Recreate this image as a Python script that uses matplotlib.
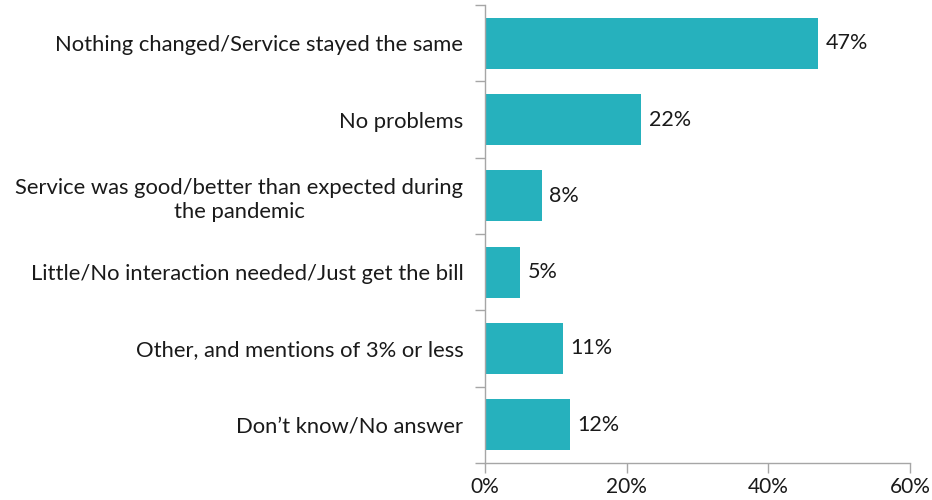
import matplotlib
matplotlib.use("Agg")
import matplotlib.pyplot as plt
from matplotlib.ticker import FixedLocator, NullFormatter

plt.rcParams['font.family'] = ['Lato', 'DejaVu Sans']

categories = [
    "Nothing changed/Service stayed the same",
    "No problems",
    "Service was good/better than expected during\nthe pandemic",
    "Little/No interaction needed/Just get the bill",
    "Other, and mentions of 3% or less",
    "Don\u2019t know/No answer",
]
values = [47, 22, 8, 5, 11, 12]
xticks = [0, 20, 40, 60]
xtick_labels = ["0%", "20%", "40%", "60%"]

bar_color = "#26B1BD"
axis_color = "#A6A6A6"
text_color = "#1a1a1a"

fig = plt.figure(figsize=(9.32, 5.0), dpi=100)
ax = fig.add_axes([485 / 932, 1 - 463 / 500, (910 - 485) / 932, (463 - 5) / 500])

n = len(categories)
ypos = list(range(n))
ax.barh(ypos, values, height=0.67, color=bar_color, zorder=2)

for y, v in zip(ypos, values):
    ax.text(v + 1.1, y, f"{v}%", va="center", ha="left", fontsize=15.5, color=text_color)

ax.set_xlim(0, 60)
ax.set_ylim(n - 0.5, -0.5)

ax.set_yticks(ypos)
ax.set_yticklabels(categories, fontsize=15.8, color=text_color)
ax.tick_params(axis="y", which="major", length=0, pad=15.5)
for lab in ax.get_yticklabels():
    lab.set_multialignment("center")
    lab.set_linespacing(1.25)

ax.yaxis.set_minor_locator(FixedLocator([i - 0.5 for i in range(n + 1)]))
ax.yaxis.set_minor_formatter(NullFormatter())
ax.tick_params(axis="y", which="minor", length=7, width=1, color=axis_color, direction="out")

ax.set_xticks(xticks)
ax.set_xticklabels(xtick_labels, fontsize=15, color=text_color)
ax.tick_params(axis="x", length=7, width=1, color=axis_color, direction="out", pad=3)

for side in ("top", "right"):
    ax.spines[side].set_visible(False)
for side in ("left", "bottom"):
    ax.spines[side].set_color(axis_color)
    ax.spines[side].set_linewidth(1)

fig.savefig("out.png", dpi=100, facecolor="white")
